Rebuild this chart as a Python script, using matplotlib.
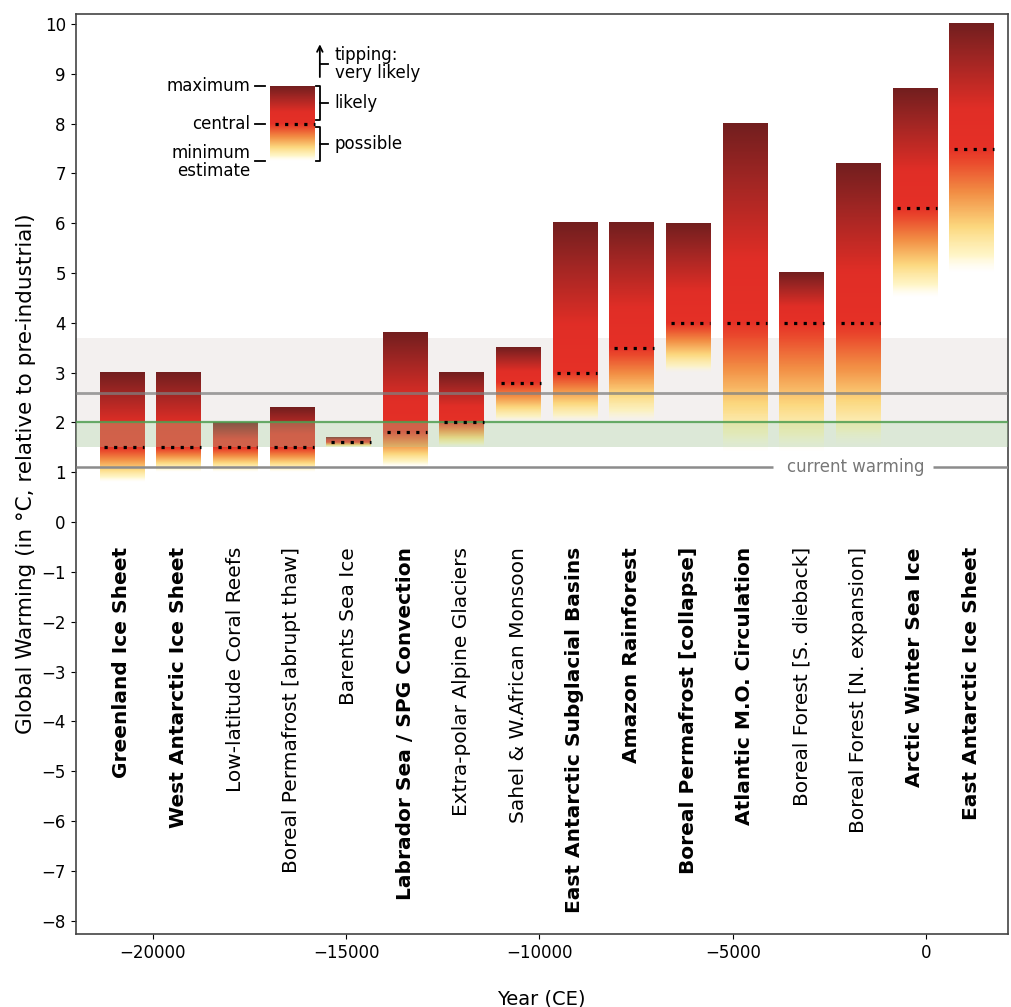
import numpy as np
import matplotlib
matplotlib.use("Agg")
import matplotlib.pyplot as plt
from matplotlib.colors import LinearSegmentedColormap

# tipping elements: name, bold flag, min / central / max threshold (deg C)
names = [
    "Greenland Ice Sheet", "West Antarctic Ice Sheet", "Low-latitude Coral Reefs",
    "Boreal Permafrost [abrupt thaw]", "Barents Sea Ice", "Labrador Sea / SPG Convection",
    "Extra-polar Alpine Glaciers", "Sahel & W.African Monsoon", "East Antarctic Subglacial Basins",
    "Amazon Rainforest", "Boreal Permafrost [collapse]", "Atlantic M.O. Circulation",
    "Boreal Forest [S. dieback]", "Boreal Forest [N. expansion]", "Arctic Winter Sea Ice",
    "East Antarctic Ice Sheet",
]
is_core = [True, True, False, False, False, True, False, False, True,
           True, True, True, False, False, True, True]
t_min = [0.8, 1.0, 1.0, 1.0, 1.5, 1.1, 1.5, 2.0, 2.0, 2.0, 3.0, 1.4, 1.4, 1.5, 4.5, 5.0]
t_central = [1.5, 1.5, 1.5, 1.5, 1.6, 1.8, 2.0, 2.8, 3.0, 3.5, 4.0, 4.0, 4.0, 4.0, 6.3, 7.5]
t_max = [3.0, 3.0, 2.0, 2.3, 1.7, 3.8, 3.0, 3.5, 6.0, 6.0, 6.0, 8.0, 5.0, 7.2, 8.7, 10.0]

current_warming = 1.1
paris_band = (1.5, 2.0)
policy_warming = 2.6
policy_band = (1.5, 3.7)

# legend example bar
legend_min, legend_central, legend_max = 7.25, 8.0, 8.75

# colour ramp: 0 = minimum (fades out), 0.5 = central, 1 = maximum
cmap = LinearSegmentedColormap.from_list("tip", [
    (0.00, (1.00, 0.98, 0.85, 0.0)),
    (0.07, (1.00, 0.95, 0.70, 0.75)),
    (0.18, (0.99, 0.85, 0.50, 1.0)),
    (0.32, (0.95, 0.56, 0.27, 1.0)),
    (0.44, (0.92, 0.30, 0.18, 1.0)),
    (0.50, (0.90, 0.19, 0.15, 1.0)),
    (0.66, (0.88, 0.18, 0.15, 1.0)),
    (0.85, (0.64, 0.15, 0.14, 1.0)),
    (1.00, (0.45, 0.12, 0.12, 1.0)),
])


def gradient_bar(ax, xc, w, lo, mid, hi, n=300):
    y = np.linspace(lo, hi, n)
    u = np.where(y < mid, 0.5 * (y - lo) / max(mid - lo, 1e-9),
                 0.5 + 0.5 * (y - mid) / max(hi - mid, 1e-9))
    rgba = cmap(u)[:, None, :]
    ax.imshow(rgba, extent=(xc - w / 2, xc + w / 2, lo, hi), origin="lower",
              aspect="auto", interpolation="bilinear", zorder=2)
    ax.hlines(mid, xc - w / 2 + 120, xc + w / 2, colors="black",
              linestyles=(0, (1, 2)), lw=2.3, zorder=6)


fig = plt.figure(figsize=(10.11, 10.07), dpi=100)
ax = fig.add_axes([0.0747, 0.0725, 0.9223, 0.9135])

x0, step, width = -20800, 1465, 1150
xs = x0 + step * np.arange(len(names))

for xc, lo, mid, hi in zip(xs, t_min, t_central, t_max):
    gradient_bar(ax, xc, width, lo, mid, hi)

for xc, name, core in zip(xs, names, is_core):
    ax.text(xc, -0.5, name, rotation=90, ha="center", va="top", fontsize=14.5,
            fontweight="bold" if core else "normal")

# warming levels
ax.axhspan(*policy_band, color="#f3f0ef", lw=0, zorder=1)
ax.axhspan(*paris_band, color="#a8d8a0", alpha=0.3, lw=0, zorder=3)
ax.axhline(policy_warming, color="#808080", lw=2, alpha=0.75, zorder=4)
ax.axhline(paris_band[1], color="#4f9e50", lw=1.6, alpha=0.85, zorder=4)
ax.hlines([current_warming, current_warming], [-22000, 180], [-3960, 2200],
          colors="#8c8c8c", lw=1.8, zorder=4)
ax.text(-1820, current_warming, "current warming", color="#777777", fontsize=12,
        ha="center", va="center", zorder=5)

# legend
lx, lw_ = -16390, 1150
gradient_bar(ax, lx, lw_, legend_min, legend_central, legend_max)
for yv in (legend_max, legend_central, legend_min):
    ax.plot([-17350, -17090], [yv, yv], color="black", lw=1.3, zorder=6)
ax.text(-17480, legend_max, "maximum", ha="right", va="center", fontsize=12)
ax.text(-17480, legend_central, "central", ha="right", va="center", fontsize=12)
ax.text(-17480, legend_min - 0.02, "minimum\nestimate", ha="right", va="center",
        fontsize=12, linespacing=1.05)

bx = -15680
for ya, yb, label in [(legend_max, legend_central + 0.07, "likely"),
                      (legend_central - 0.07, legend_min, "possible")]:
    ax.plot([bx - 90, bx, bx, bx - 90], [ya, ya, yb, yb], color="black", lw=1.3, zorder=6)
    ym = (ya + yb) / 2
    ax.plot([bx, bx + 200], [ym, ym], color="black", lw=1.3, zorder=6)
    ax.text(bx + 380, ym, label, ha="left", va="center", fontsize=12)
ax.annotate("", xy=(bx, 9.65), xytext=(bx, 8.88),
            arrowprops=dict(arrowstyle="->", color="black", lw=1.3))
ax.plot([bx, bx + 200], [9.2, 9.2], color="black", lw=1.3)
ax.text(bx + 380, 9.2, "tipping:\nvery likely", ha="left", va="center", fontsize=12,
        linespacing=1.0)

ax.set_xlim(-22000, 2120)
ax.set_ylim(-8.27, 10.2)
ax.set_yticks(np.arange(-8, 11, 1))
ax.set_xticks([-20000, -15000, -10000, -5000, 0])
ax.tick_params(labelsize=12)
ax.set_ylabel("Global Warming (in °C, relative to pre-industrial)", fontsize=15.5,
              labelpad=4)
ax.set_xlabel("Year (CE)", fontsize=14, labelpad=20)
for s in ax.spines.values():
    s.set_color("#444444")
    s.set_linewidth(1.2)

fig.savefig("out.png", dpi=100)
